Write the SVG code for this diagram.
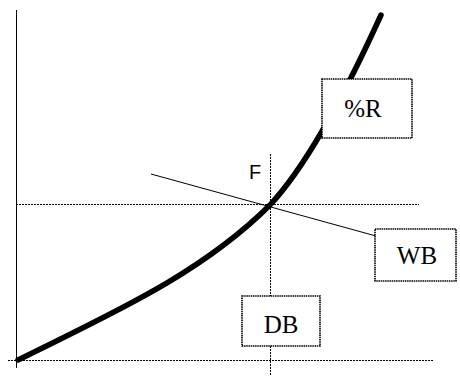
<svg xmlns="http://www.w3.org/2000/svg" width="460" height="376" viewBox="0 0 460 376">
  <style>
    .axis { stroke: #000; stroke-width: 1; fill: none; }
    .guide { stroke: #000; stroke-width: 1; stroke-dasharray: 2 1; fill: none; }
    .thin { stroke: #000; stroke-width: 1; fill: none; }
    .curve { stroke: #000; stroke-width: 5.5; fill: none; stroke-linecap: round; }
    .box { fill: #fff; stroke: #000; stroke-width: 1.6; stroke-dasharray: 1.5 0.7; }
    .lbl { font-family: "Liberation Serif", "Times New Roman", serif; font-size: 25px; fill: #000; }
    .mark { font-family: "Liberation Sans", Arial, sans-serif; font-size: 20px; fill: #000; }
  </style>
  <rect width="460" height="376" fill="#fff"/>

  <g id="connectors">
    <!-- vertical axis -->
    <line class="axis" x1="16.5" y1="10" x2="16.5" y2="368"/>
    <!-- horizontal guides -->
    <line class="guide" x1="8" y1="360.5" x2="433" y2="360.5"/>
    <line class="guide" x1="16" y1="204.5" x2="419" y2="204.5"/>
    <!-- vertical guide through the intersection -->
    <line class="guide" x1="270.5" y1="154" x2="270.5" y2="375"/>
    <!-- sloped line to WB -->
    <line class="thin" x1="151" y1="174" x2="376" y2="236"/>
    <!-- rising curve -->
    <path class="curve" d="M18,360 C108,315 200,275 270,205 C310,162 351,81 381,15"/>
  </g>

  <g id="node-F">
    <text class="mark" x="249" y="179">F</text>
  </g>

  <g id="node-R">
    <rect class="box" x="322" y="79" width="90" height="59"/>
    <text class="lbl" x="363" y="117" text-anchor="middle">%R</text>
  </g>

  <g id="node-WB">
    <rect class="box" x="375" y="229" width="81" height="52"/>
    <text class="lbl" x="417" y="264" text-anchor="middle">WB</text>
  </g>

  <g id="node-DB">
    <rect class="box" x="242" y="296" width="78" height="50"/>
    <text class="lbl" x="281" y="333" text-anchor="middle">DB</text>
  </g>
</svg>
